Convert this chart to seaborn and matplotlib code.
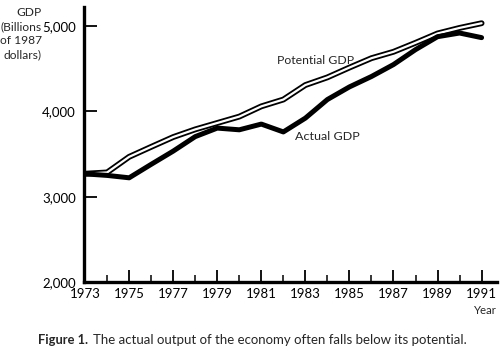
import matplotlib
matplotlib.use("Agg")
import matplotlib.pyplot as plt
from matplotlib.ticker import MultipleLocator, FixedLocator
import seaborn as sns
import pandas as pd

years = list(range(1973, 1992))
actual_gdp = [3268, 3250, 3222, 3380, 3535, 3705, 3805, 3785, 3852, 3760,
              3922, 4140, 4288, 4410, 4550, 4725, 4877, 4920, 4866]
potential_gdp = [3270, 3285, 3468, 3585, 3700, 3790, 3865, 3940, 4060, 4140,
                 4310, 4400, 4515, 4625, 4700, 4805, 4915, 4980, 5035]
ytick_values = [2000, 3000, 4000, 5000]
ytick_labels = ["2,000", "3,000", "4,000", "5,000"]
xtick_values = list(range(1973, 1992, 2))
ylabel_lines = ["GDP", "(Billions", "of 1987", "dollars)"]

df = pd.DataFrame({"Year": years, "Actual": actual_gdp, "Potential": potential_gdp})

sns.set_style("white")
plt.rcParams['font.family'] = ['Lato', 'DejaVu Sans']

fig = plt.figure(figsize=(5.0, 3.51), dpi=100)
ax = fig.add_axes([0.168, 0.1966, 0.826, 0.7834])

sns.lineplot(data=df, x="Year", y="Potential", ax=ax, color="black", linewidth=4.2)
sns.lineplot(data=df, x="Year", y="Potential", ax=ax, color="white", linewidth=1.6)
sns.lineplot(data=df, x="Year", y="Actual", ax=ax, color="black", linewidth=3.6)

ax.set_xlim(1972.95, 1991.7)
ax.set_ylim(2000, 5225)
ax.set_xlabel("")
ax.set_ylabel("")

for s in ["top", "right"]:
    ax.spines[s].set_visible(False)
for s in ["left", "bottom"]:
    ax.spines[s].set_linewidth(2.4)
    ax.spines[s].set_color("black")

ax.yaxis.set_major_locator(FixedLocator(ytick_values))
ax.set_yticklabels(ytick_labels)
ax.xaxis.set_major_locator(FixedLocator(xtick_values))
ax.xaxis.set_minor_locator(MultipleLocator(1))
ax.set_xticklabels([str(y) for y in xtick_values])

ax.tick_params(axis="y", which="major", direction="in", length=9, width=1.3,
               labelsize=9.5, pad=6, colors="black", left=True)
ax.tick_params(axis="x", which="major", direction="in", length=9, width=1.3,
               labelsize=9.5, pad=4, colors="black", bottom=True)
ax.tick_params(axis="x", which="minor", direction="in", length=5, width=1.3, bottom=True)

renderer = fig.canvas.get_renderer()


def fit(t, target_px):
    w = t.get_window_extent(renderer).width
    t.set_fontsize(t.get_fontsize() * target_px / w)
    return t.get_fontsize()


def px(x, y):
    return x / 500, 1 - y / 351


t_pot = fig.text(*px(316, 60), "Potential GDP", fontsize=10, ha="center", va="center")
fit(t_pot, 77)
t_act = fig.text(*px(327, 136), "Actual GDP", fontsize=10, ha="center", va="center")
fit(t_act, 64)

ylab = []
for i, line in enumerate(ylabel_lines):
    ylab.append(fig.text(*px(42, 12 + 14.4 * i), line, fontsize=10,
                         ha="right", va="center"))
fs = fit(ylab[3], 38)
for t in ylab:
    t.set_fontsize(fs)

t_year = fig.text(*px(497, 310), "Year", fontsize=9.5, ha="right", va="center")
fit(t_year, 23)

t_fig = fig.text(*px(38, 340), "Figure 1.", fontsize=10, fontweight="bold",
                 ha="left", va="center")
fit(t_fig, 50)
t_cap = fig.text(*px(93, 340),
                 "The actual output of the economy often falls below its potential.",
                 fontsize=10, ha="left", va="center")
fit(t_cap, 375)

fig.savefig("out.png", dpi=100)
